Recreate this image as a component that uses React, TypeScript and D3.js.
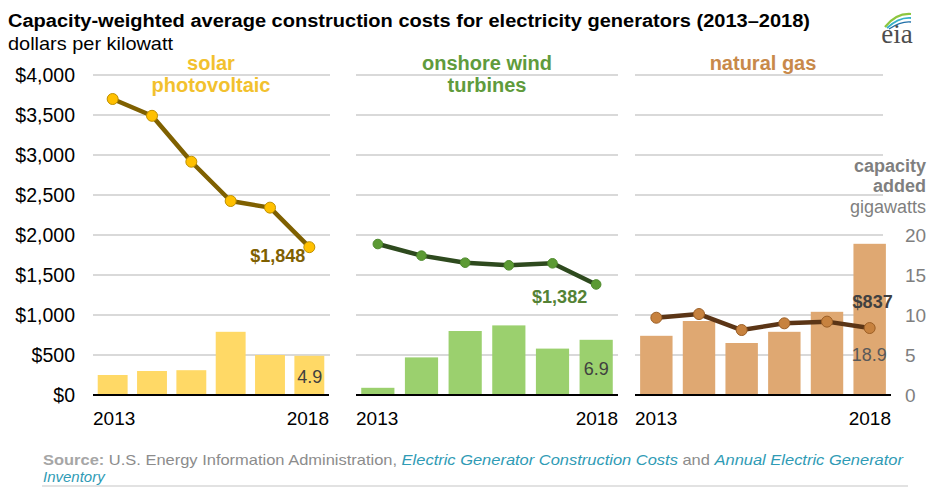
import React from 'react';
import * as d3 from 'd3';

// years on each panel's x axis
const years = [2013, 2014, 2015, 2016, 2017, 2018];

// construction cost, dollars per kilowatt
const solarCost = [3700, 3490, 2916, 2425, 2342, 1848];
const windCost = [1887, 1742, 1654, 1621, 1646, 1382];
const gasCost = [966, 1012, 812, 896, 917, 837];

// capacity added, gigawatts
const solarGW = [2.5, 3.0, 3.1, 7.9, 5.0, 4.9];
const windGW = [0.9, 4.7, 8.0, 8.7, 5.8, 6.9];
const gasGW = [7.4, 9.25, 6.5, 7.9, 10.4, 18.9];

const costTicks = [0, 500, 1000, 1500, 2000, 2500, 3000, 3500, 4000];
const gwTicks = [0, 5, 10, 15, 20];

const W = 932, H = 487;
const FONT = '"Liberation Sans", Arial, sans-serif';

const yCost = d3.scaleLinear().domain([0, 4000]).range([395, 75]);
const yGW = d3.scaleLinear().domain([0, 20]).range([395, 235]);

interface Panel {
  name: string[];
  cost: number[];
  gw: number[];
  range: [number, number];
  gridEnd: number;
  titleColor: string;
  barColor: string;
  lineColor: string;
  dotFill: string;
  dotStroke: string;
  dotR: number;
  costLabel: string;
  costColor: string;
  costDx: number;
  costDy: number;
  gwLabel: string;
  gwColor: string;
  gwDx: number;
  gwDy: number;
}

const panels: Panel[] = [
  {
    name: ['solar', 'photovoltaic'], cost: solarCost, gw: solarGW,
    range: [93, 329], gridEnd: 330,
    titleColor: '#f2c12e', barColor: '#ffd966', lineColor: '#7f6000',
    dotFill: '#ffc000', dotStroke: '#bf9000', dotR: 5.5,
    costLabel: '$1,848', costColor: '#7f6000', costDx: -4, costDy: 15,
    gwLabel: '4.9', gwColor: '#404040', gwDx: -2, gwDy: -12,
  },
  {
    name: ['onshore wind', 'turbines'], cost: windCost, gw: windGW,
    range: [356, 618], gridEnd: 618,
    titleColor: '#609b3c', barColor: '#9bd06e', lineColor: '#2e4a1e',
    dotFill: '#5c9a34', dotStroke: '#4e8a2c', dotR: 4.8,
    costLabel: '$1,382', costColor: '#548235', costDx: -9, costDy: 19,
    gwLabel: '6.9', gwColor: '#404040', gwDx: -4, gwDy: -20,
  },
  {
    name: ['natural gas'], cost: gasCost, gw: gasGW,
    range: [635, 891], gridEnd: 883,
    titleColor: '#c8894a', barColor: '#dfa872', lineColor: '#5b3516',
    dotFill: '#c7823f', dotStroke: '#9c5f26', dotR: 5.5,
    costLabel: '$837', costColor: '#404040', costDx: 23, costDy: -20,
    gwLabel: '18.9', gwColor: '#595959', gwDx: 1, gwDy: -34,
  },
];

const PanelView = ({ p }: { p: Panel }) => {
  const x = d3.scaleBand<number>().domain(years).range(p.range)
    .paddingInner(0.24).paddingOuter(0.12);
  const cx = (yr: number) => (x(yr) as number) + x.bandwidth() / 2;
  const line = d3.line<number>()
    .x((_, i) => cx(years[i]))
    .y(d => yCost(d));
  const mid = (p.range[0] + p.range[1]) / 2;
  const last = years.length - 1;
  const lastEnd = (x(years[last]) as number) + x.bandwidth();
  return (
    <g>
      {costTicks.filter(t => t > 0).map(t => (
        <line key={t} x1={p.range[0]} x2={p.gridEnd} y1={yCost(t)} y2={yCost(t)}
          stroke="#d9d9d9" strokeWidth={2} />
      ))}
      {p.name.map((s, i) => (
        <text key={s} x={mid} y={70 + i * 22} textAnchor="middle" fontSize={20}
          fontWeight="bold" fill={p.titleColor}>{s}</text>
      ))}
      {p.gw.map((v, i) => (
        <rect key={i} x={x(years[i])} y={yGW(v)} width={x.bandwidth()}
          height={yGW(0) - yGW(v)} fill={p.barColor} />
      ))}
      <line x1={p.range[0]} x2={p.range[1]} y1={yCost(0)} y2={yCost(0)}
        stroke="#000" strokeWidth={2} />
      <path d={line(p.cost) || ''} fill="none" stroke={p.lineColor} strokeWidth={4.5}
        strokeLinejoin="round" />
      {p.cost.map((v, i) => (
        <circle key={i} cx={cx(years[i])} cy={yCost(v)} r={p.dotR}
          fill={p.dotFill} stroke={p.dotStroke} strokeWidth={1} />
      ))}
      <text x={cx(years[last]) + p.costDx} y={yCost(p.cost[last]) + p.costDy}
        textAnchor="end" fontSize={18} fontWeight="bold" fill={p.costColor}>{p.costLabel}</text>
      <text x={lastEnd + p.gwDx} y={yGW(0) + p.gwDy} textAnchor="end" fontSize={18}
        fill={p.gwColor}>{p.gwLabel}</text>
      <text x={p.range[0]} y={425} fontSize={19} fill="#000">{years[0]}</text>
      <text x={p.range[1]} y={425} fontSize={19} fill="#000" textAnchor="end">{years[last]}</text>
    </g>
  );
};

const EiaLogo = () => (
  <g fill="none">
    <path d="M885,27 Q896,13 911,14" stroke="#8dc63f" strokeWidth={2.2} />
    <path d="M887,28 Q899,17 911,18" stroke="#36b0c9" strokeWidth={1.8} />
    <path d="M889,29 Q901,21 911,22" stroke="#1f6fa8" strokeWidth={1.4} />
    <text x={897} y={43} textAnchor="middle" fontSize={27}
      fontFamily='"Liberation Serif", "DejaVu Serif", serif' fill="#4d4d4d">eia</text>
  </g>
);

export default function App() {
  return (
    <svg width={W} height={H} viewBox={`0 0 ${W} ${H}`}
      style={{ position: 'absolute', left: 0, top: 0, background: '#fff' }}
      fontFamily={FONT}>
      <rect width={W} height={H} fill="#fff" />
      <text x={8} y={27} fontSize={18} fontWeight="bold" fill="#000"
        textLength={802} lengthAdjust="spacingAndGlyphs">
        Capacity-weighted average construction costs for electricity generators (2013–2018)
      </text>
      <text x={8} y={50} fontSize={18.5} fill="#000" textLength={165}
        lengthAdjust="spacingAndGlyphs">dollars per kilowatt</text>
      <EiaLogo />
      {costTicks.map(t => (
        <text key={t} x={75} y={yCost(t) + 7} textAnchor="end" fontSize={19.5} fill="#000">
          {d3.format('$,')(t)}
        </text>
      ))}
      {panels.map((p, i) => <PanelView key={i} p={p} />)}
      <g fill="#7f7f7f" fontSize={18} textAnchor="end">
        <text x={926} y={172} fontWeight="bold">capacity</text>
        <text x={926} y={192} fontWeight="bold">added</text>
        <text x={926} y={213}>gigawatts</text>
      </g>
      {gwTicks.map(t => (
        <text key={t} x={905} y={yGW(t) + 7} fontSize={19} fill="#7f7f7f">{t}</text>
      ))}
      <text x={43} y={465} fontSize={15} textLength={860} lengthAdjust="spacingAndGlyphs">
        <tspan fill="#a6a6a6" fontWeight="bold">Source:</tspan>
        <tspan fill="#8c8c8c"> U.S. Energy Information Administration, </tspan>
        <tspan fill="#2f9bb5" fontStyle="italic">Electric Generator Construction Costs</tspan>
        <tspan fill="#8c8c8c"> and </tspan>
        <tspan fill="#2f9bb5" fontStyle="italic">Annual Electric Generator</tspan>
      </text>
      <text x={43} y={482} fontSize={15} fill="#2f9bb5" fontStyle="italic">Inventory</text>
      <line x1={42} x2={908} y1={486} y2={486} stroke="#d9d9d9" strokeWidth={1.5} />
    </svg>
  );
}
